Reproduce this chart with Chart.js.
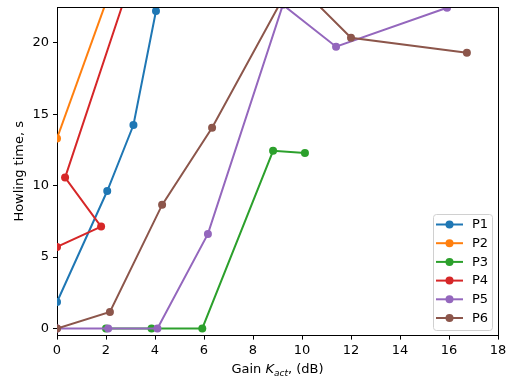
<!DOCTYPE html>
<html>
<head>
<meta charset="utf-8">
<script src="https://cdn.jsdelivr.net/npm/chart.js@4/dist/chart.umd.min.js"></script>
<style>
html,body{margin:0;padding:0;background:#fff;}
#wrap{width:508px;height:378px;position:relative;}
</style>
</head>
<body>
<div id="wrap"><canvas id="c" width="508" height="378"></canvas></div>
<script>
// ---- data ----
const seriesNames = ["P1", "P2", "P3", "P4", "P5", "P6"];
const seriesColors = ["#1f77b4", "#ff7f0e", "#2ca02c", "#d62728", "#9467bd", "#8c564b"];
const p1Gain = [0, 2.05, 3.12, 4.04];
const p1Time = [1.85, 9.62, 14.24, 22.22];
const p2Gain = [0, 2.1];
const p2Time = [13.3, 23.3];
const p3Gain = [2.0, 3.86, 5.93, 8.82, 10.12];
const p3Time = [0, 0, 0, 12.43, 12.28];
const p4Gain = [0, 1.8, 0.33, 2.8];
const p4Time = [5.71, 7.13, 10.56, 23.3];
const p5Gain = [0, 2.09, 4.1, 6.16, 9.22, 11.39, 15.92];
const p5Time = [0, 0, 0, 6.62, 22.65, 19.72, 22.45];
const p6Gain = [0, 2.16, 4.29, 6.33, 9.63, 12.0, 16.73];
const p6Time = [0, 1.16, 8.65, 14.05, 24.4, 20.35, 19.3];
const xTicks = [0, 2, 4, 6, 8, 10, 12, 14, 16, 18];
const yTicks = [0, 5, 10, 15, 20];

const gains = [p1Gain, p2Gain, p3Gain, p4Gain, p5Gain, p6Gain];
const times = [p1Time, p2Time, p3Time, p4Time, p5Time, p6Time];

const FONT = "DejaVu Sans";

const datasets = seriesNames.map((name, i) => ({
  label: name,
  data: gains[i].map((g, k) => ({x: g, y: times[i][k]})),
  borderColor: seriesColors[i],
  backgroundColor: seriesColors[i],
  pointBackgroundColor: seriesColors[i],
  pointBorderColor: seriesColors[i],
  borderWidth: 2,
  pointRadius: 4,
  pointBorderWidth: 0,
  tension: 0,
  fill: false,
  order: seriesNames.length - i
}));

const framePlugin = {
  id: 'frame',
  afterDraw(chart) {
    const ctx = chart.ctx;
    const a = chart.chartArea;
    ctx.save();
    ctx.strokeStyle = '#000';
    ctx.lineWidth = 1;
    ctx.beginPath();
    ctx.moveTo(a.left, a.top + 0.5);
    ctx.lineTo(a.right, a.top + 0.5);
    ctx.moveTo(a.right + 0.5, a.top);
    ctx.lineTo(a.right + 0.5, a.bottom);
    ctx.stroke();

    // legend
    const lx = 433, ly = 214, lw = 59, lh = 116;
    ctx.fillStyle = 'rgba(255,255,255,0.8)';
    ctx.strokeStyle = '#d0d0d0';
    ctx.lineWidth = 1;
    ctx.beginPath();
    if (ctx.roundRect) ctx.roundRect(lx + 0.5, ly + 0.5, lw, lh, 3); else ctx.rect(lx + 0.5, ly + 0.5, lw, lh);
    ctx.fill();
    ctx.stroke();
    ctx.font = '13px "' + FONT + '"';
    ctx.textBaseline = 'middle';
    ctx.textAlign = 'left';
    seriesNames.forEach((name, i) => {
      const yy = 224.5 + i * 18.7;
      ctx.strokeStyle = seriesColors[i];
      ctx.lineWidth = 2;
      ctx.beginPath();
      ctx.moveTo(436, yy);
      ctx.lineTo(463, yy);
      ctx.stroke();
      ctx.fillStyle = seriesColors[i];
      ctx.beginPath();
      ctx.arc(449.5, yy, 4, 0, Math.PI * 2);
      ctx.fill();
      ctx.fillStyle = '#000';
      ctx.fillText(name, 472, yy + 0.5);
    });

    ctx.fillStyle = '#000';
    ctx.save();
    ctx.translate(20, (a.top + a.bottom) / 2);
    ctx.rotate(-Math.PI / 2);
    ctx.textAlign = 'center';
    ctx.textBaseline = 'middle';
    ctx.font = '13px "' + FONT + '"';
    ctx.fillText('Howling time, s', 0, 0);
    ctx.restore();
    const parts = [
      {t: 'Gain ', f: '13px "' + FONT + '"', dy: 0},
      {t: 'K', f: 'oblique 13px "' + FONT + '"', dy: 0},
      {t: 'act', f: 'oblique 9px "' + FONT + '"', dy: 3},
      {t: ', (dB)', f: '13px "' + FONT + '"', dy: 0}
    ];
    let total = 0;
    parts.forEach(p => { ctx.font = p.f; p.w = ctx.measureText(p.t).width; total += p.w; });
    let x = (a.left + a.right) / 2 - total / 2;
    ctx.textAlign = 'left';
    ctx.textBaseline = 'alphabetic';
    parts.forEach(p => { ctx.font = p.f; ctx.fillText(p.t, x, 373 + p.dy); x += p.w; });
    ctx.restore();
  }
};

new Chart(document.getElementById('c'), {
  type: 'line',
  data: { datasets },
  options: {
    responsive: false,
    animation: false,
    devicePixelRatio: 1,
    layout: { padding: { left: 0, top: 7, right: 10, bottom: 0 } },
    plugins: { legend: { display: false }, tooltip: { enabled: false } },
    scales: {
      x: {
        type: 'linear',
        min: 0, max: 18,
        afterBuildTicks: s => { s.ticks = xTicks.map(v => ({value: v})); },
        afterFit: s => { s.height = 42.4; s.paddingLeft = 0; s.paddingRight = 0; },
        grid: { display: true, drawOnChartArea: false, drawTicks: true, tickLength: 4, color: '#000', tickWidth: 1 },
        border: { display: true, color: '#000', width: 1 },
        ticks: { color: '#000', padding: 3, font: { family: FONT, size: 13 }, maxRotation: 0 }
      },
      y: {
        type: 'linear',
        min: -0.5, max: 22.5,
        afterBuildTicks: s => { s.ticks = yTicks.map(v => ({value: v})); },
        afterFit: s => { s.width = 57; s.paddingTop = 0; s.paddingBottom = 0; },
        grid: { display: true, drawOnChartArea: false, drawTicks: true, tickLength: 4, color: '#000', tickWidth: 1 },
        border: { display: true, color: '#000', width: 1 },
        ticks: { color: '#000', padding: 4, font: { family: FONT, size: 13 } }
      }
    }
  },
  plugins: [framePlugin]
});
</script>
</body>
</html>
